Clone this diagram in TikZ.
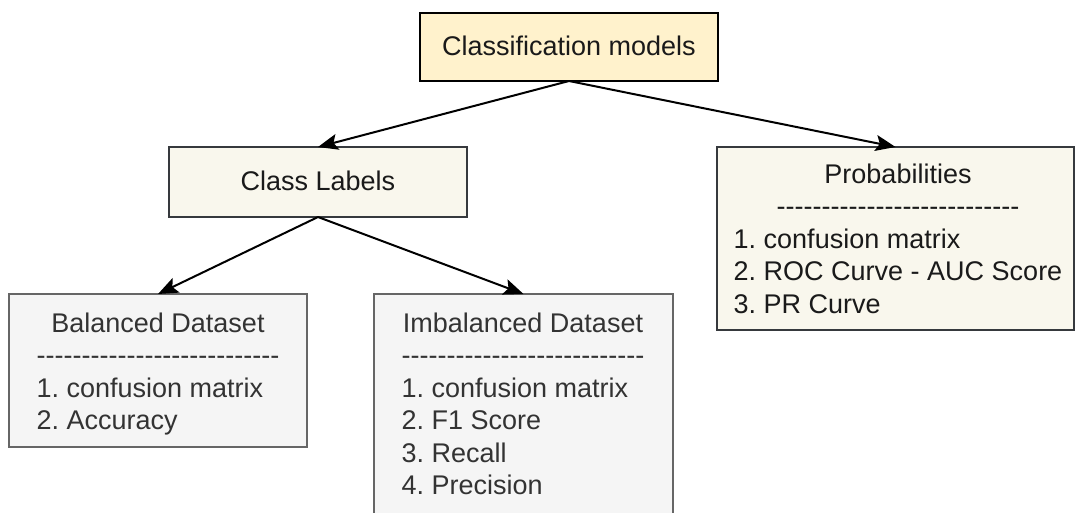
\documentclass[tikz,border=0pt]{standalone}
\usepackage{fontspec}
\setmainfont{Liberation Sans}
\usetikzlibrary{arrows.meta}
\frenchspacing

\definecolor{rootfill}{HTML}{FFF2CC}
\definecolor{tanfill}{HTML}{F9F7ED}
\definecolor{tanline}{HTML}{36393D}
\definecolor{greyfill}{HTML}{F5F5F5}
\definecolor{greyline}{HTML}{666666}
\definecolor{greytext}{HTML}{333333}
\definecolor{inktext}{HTML}{1A1A1A}

% a row of 27 plain hyphens (braces keep them from joining into dashes)
\newcommand\hyphenrow{-{}-{}-{}-{}-{}-{}-{}-{}-{}-{}-{}-{}-{}-{}-{}-{}-{}-{}-{}-{}-{}-{}-{}-{}-{}-{}-{}}
\newcommand\blockfont{\fontsize{27}{32.5}\selectfont}
\newcommand\ctr[1]{\multicolumn{1}{@{}c@{}}{#1}}

\begin{document}
\begin{tikzpicture}[x=1pt,y=-1pt,
  box/.style={rectangle, line width=2pt, inner sep=0pt, outer sep=0pt},
  rootbox/.style={box, fill=rootfill, draw=black},
  tanbox/.style={box, fill=tanfill, draw=tanline},
  greybox/.style={box, fill=greyfill, draw=greyline},
  txt/.style={inner sep=0pt, outer sep=0pt, anchor=base, font=\blockfont},
  link/.style={draw=black, line width=2pt, -{Stealth[length=20pt,width=16pt,inset=4pt]}},
]
\clip (0,0) rectangle (1075,512);

% boxes
\node[rootbox, minimum width=298pt, minimum height=68pt] (root) at (569,47) {};
\node[tanbox, minimum width=298pt, minimum height=70pt] (cls) at (318,182) {};
\node[tanbox, minimum width=357pt, minimum height=183pt] (prob) at (895.5,238.5) {};
\node[greybox, minimum width=298pt, minimum height=153pt] (bal) at (158,370.5) {};
\node[greybox, minimum width=299pt, minimum height=266pt] (imb) at (523.5,427) {};

% texts
\node[txt, text=inktext] (rootText) at (569,55) {Classification models};
\node[txt, text=inktext] (clsText) at (318,190) {Class Labels};
\node[txt, text=inktext] (probText) at (898,183) {\begin{tabular}[t]{@{}l@{}}
  \ctr{Probabilities}\\ \ctr{\hyphenrow}\\
  1. confusion matrix\\ 2. ROC Curve - AUC Score\\ 3. PR Curve\end{tabular}};
\node[txt, text=greytext] (balText) at (158,332) {\begin{tabular}[t]{@{}l@{}}
  \ctr{Balanced Dataset}\\ \ctr{\hyphenrow}\\
  1. confusion matrix\\ 2. Accuracy\end{tabular}};
\node[txt, text=greytext] (imbText) at (523,332) {\begin{tabular}[t]{@{}l@{}}
  \ctr{Imbalanced Dataset}\\ \ctr{\hyphenrow}\\
  1. confusion matrix\\ 2. F1 Score\\ 3. Recall\\ 4. Precision\end{tabular}};

% connectors
\draw[link] (root.south) -- (cls.north);
\draw[link] (root.south) -- (prob.north);
\draw[link] (cls.south) -- (bal.north);
\draw[link] (cls.south) -- (imb.north);
\end{tikzpicture}
\end{document}
